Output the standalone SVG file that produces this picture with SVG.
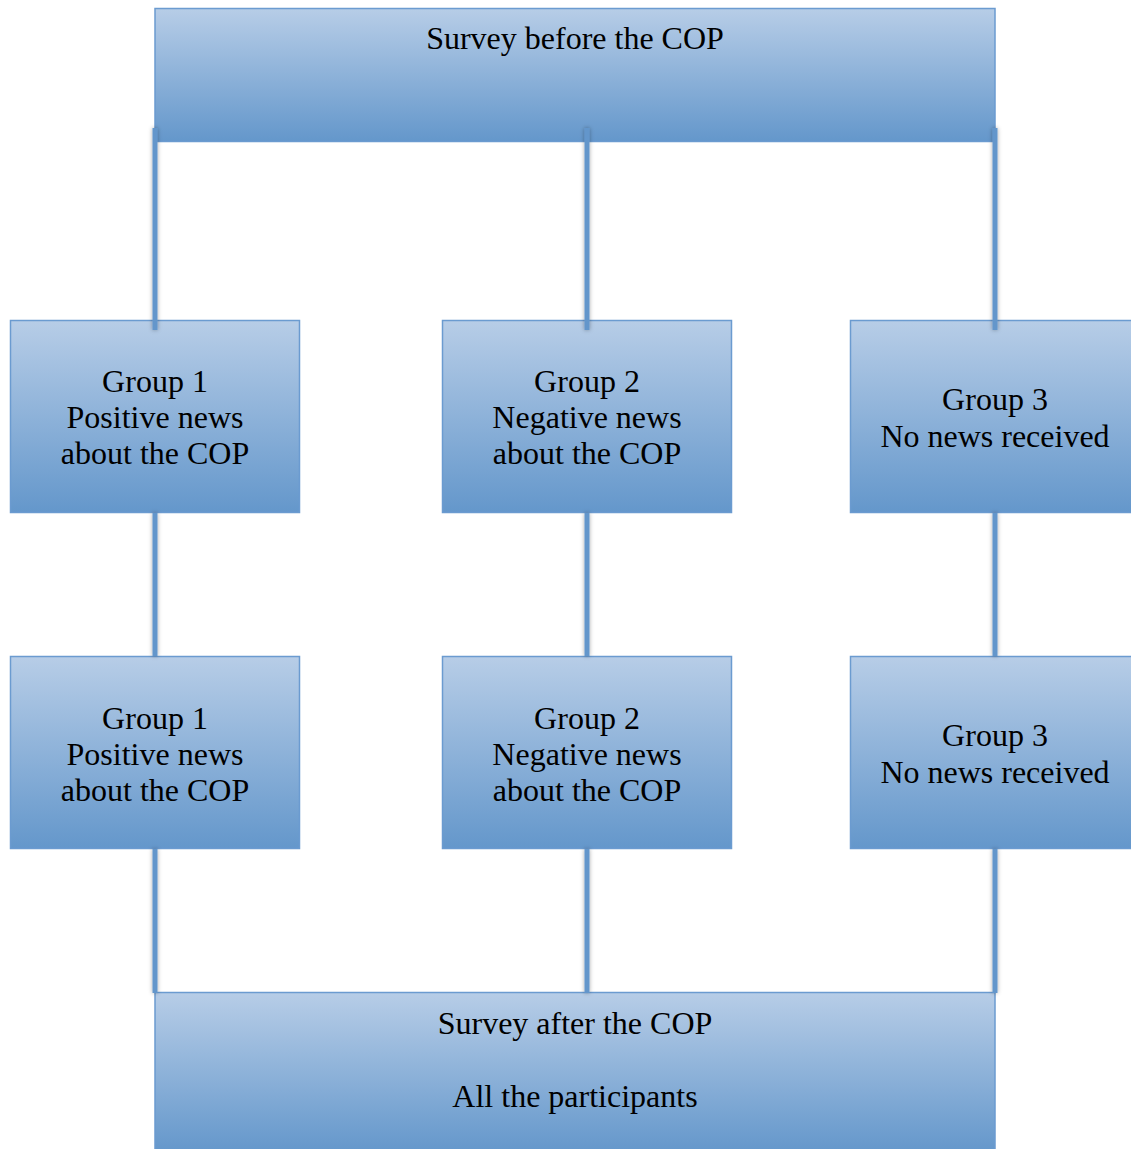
<svg xmlns="http://www.w3.org/2000/svg" width="1131" height="1149" viewBox="0 0 1131 1149">
<defs>
<linearGradient id="g" x1="0" y1="0" x2="0" y2="1">
<stop offset="0" stop-color="#b7cde7"/>
<stop offset="1" stop-color="#6497cb"/>
</linearGradient>
<filter id="sh" x="-300%" y="-5%" width="700%" height="110%">
<feDropShadow dx="0" dy="0" stdDeviation="2" flood-color="#000" flood-opacity="0.35"/>
</filter>
</defs>
<style>
.box{fill:url(#g);stroke:#6b9bd0;stroke-width:1.5}
.c{stroke:#6396cb;stroke-width:5;fill:none}
text{font-family:"Liberation Serif","Times New Roman",serif;font-size:32px;fill:#000;text-anchor:middle}
</style>
<rect width="1131" height="1149" fill="#fff"/>
<g id="survey-before">
<rect class="box" x="155" y="8.5" width="840" height="133"/>
<text x="575" y="49">Survey before the COP</text>
</g>
<g id="g1a">
<rect class="box" x="10.5" y="320.5" width="289" height="192"/>
<text x="155" y="392">Group 1</text>
<text x="155" y="428">Positive news</text>
<text x="155" y="464">about the COP</text>
</g>
<g id="g2a">
<rect class="box" x="442.5" y="320.5" width="289" height="192"/>
<text x="587" y="392">Group 2</text>
<text x="587" y="428">Negative news</text>
<text x="587" y="464">about the COP</text>
</g>
<g id="g3a">
<rect class="box" x="850.5" y="320.5" width="290" height="192"/>
<text x="995" y="410">Group 3</text>
<text x="995" y="447">No news received</text>
</g>
<g id="g1b">
<rect class="box" x="10.5" y="656.5" width="289" height="192"/>
<text x="155" y="729">Group 1</text>
<text x="155" y="765">Positive news</text>
<text x="155" y="801">about the COP</text>
</g>
<g id="g2b">
<rect class="box" x="442.5" y="656.5" width="289" height="192"/>
<text x="587" y="729">Group 2</text>
<text x="587" y="765">Negative news</text>
<text x="587" y="801">about the COP</text>
</g>
<g id="g3b">
<rect class="box" x="850.5" y="656.5" width="290" height="192"/>
<text x="995" y="746">Group 3</text>
<text x="995" y="783">No news received</text>
</g>
<g id="survey-after">
<rect class="box" x="155" y="992.5" width="840" height="160"/>
<text x="575" y="1034">Survey after the COP</text>
<text x="575" y="1107">All the participants</text>
</g>
<g id="connectors" filter="url(#sh)">
<line class="c" x1="155" y1="128" x2="155" y2="330"/>
<line class="c" x1="587" y1="128" x2="587" y2="330"/>
<line class="c" x1="995" y1="128" x2="995" y2="330"/>
<line class="c" x1="155" y1="513" x2="155" y2="656"/>
<line class="c" x1="587" y1="513" x2="587" y2="656"/>
<line class="c" x1="995" y1="513" x2="995" y2="656"/>
<line class="c" x1="155" y1="849" x2="155" y2="993"/>
<line class="c" x1="587" y1="849" x2="587" y2="993"/>
<line class="c" x1="995" y1="849" x2="995" y2="993"/>
</g>
</svg>
